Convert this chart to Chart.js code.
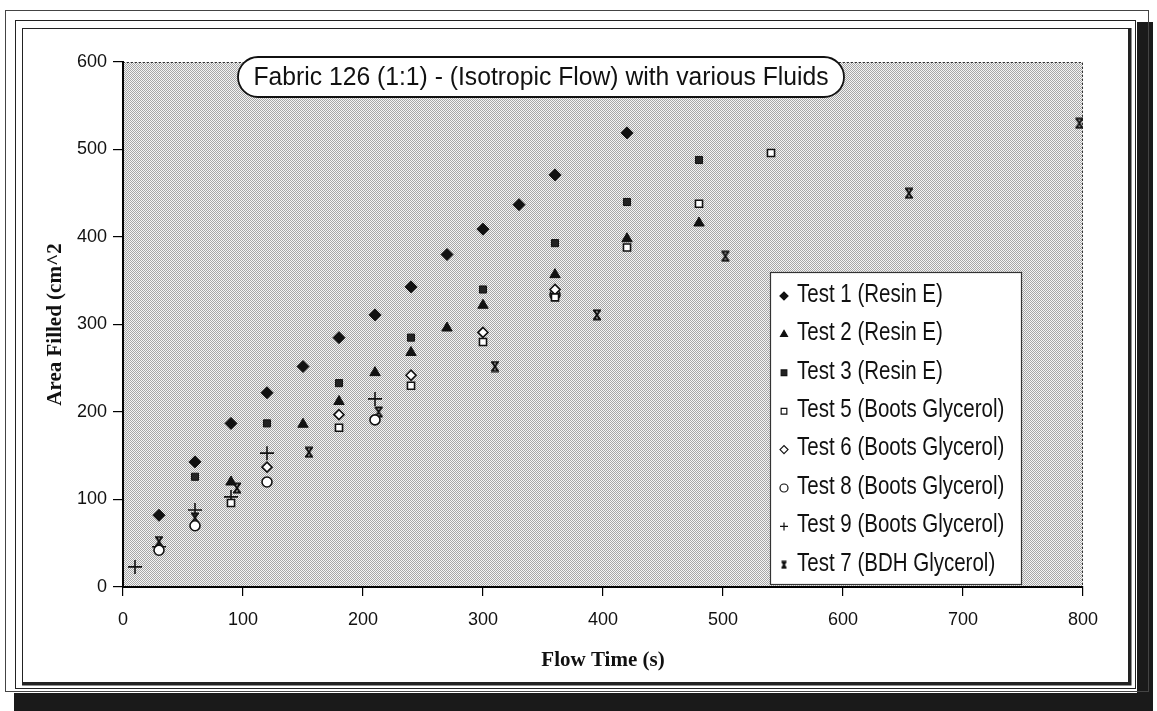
<!DOCTYPE html>
<html>
<head>
<meta charset="utf-8">
<script src="https://cdn.jsdelivr.net/npm/chart.js"></script>
<style>
  html, body { margin: 0; padding: 0; background: #fff; }
  #wrap { width: 1157px; height: 711px; }
</style>
</head>
<body>
<div id="wrap"><canvas id="fillChart" width="1157" height="711"></canvas></div>
<script>
// flow time (s) / area filled (cm^2) per test
const test1Time = [30, 60, 90, 120, 150, 180, 210, 240, 270, 300, 330, 360, 420];
const test1Area = [82, 143, 187, 222, 252, 285, 311, 343, 380, 409, 437, 471, 519];
const test2Time = [90, 150, 180, 210, 240, 270, 300, 360, 420, 480];
const test2Area = [120, 186, 212, 245, 268, 296, 322, 357, 398, 416];
const test3Time = [60, 120, 180, 240, 300, 360, 420, 480];
const test3Area = [126, 187, 233, 285, 340, 393, 440, 488];
const test5Time = [90, 180, 240, 300, 360, 420, 480, 540];
const test5Area = [96, 182, 230, 280, 331, 388, 438, 496];
const test6Time = [120, 180, 240, 300, 360];
const test6Area = [137, 197, 242, 291, 340];
const test8Time = [30, 60, 120, 210, 360];
const test8Area = [42, 70, 120, 191, 334];
const test9Time = [10, 30, 60, 90, 120, 210];
const test9Area = [23, 46, 88, 103, 153, 215];
const test7Time = [30, 60, 95, 155, 213, 310, 395, 502, 655, 797];
const test7Area = [52, 79, 113, 154, 200, 252, 311, 378, 450, 530];

const seriesNames = [
  'Test 1 (Resin E)', 'Test 2 (Resin E)', 'Test 3 (Resin E)',
  'Test 5 (Boots Glycerol)', 'Test 6 (Boots Glycerol)', 'Test 8 (Boots Glycerol)',
  'Test 9 (Boots Glycerol)', 'Test 7 (BDH Glycerol)'
];
const timeTicks = [0, 100, 200, 300, 400, 500, 600, 700, 800];
const areaTicks = [0, 100, 200, 300, 400, 500, 600];
const chartTitle = 'Fabric 126 (1:1) - (Isotropic Flow) with various Fluids';

function pairs(xs, ys) {
  return xs.map((x, i) => ({ x: x, y: ys[i] }));
}

// "x" with bars top and bottom
function hourglassMarker(size) {
  const c = document.createElement('canvas');
  c.width = size; c.height = size;
  const g = c.getContext('2d');
  g.strokeStyle = '#111';
  g.lineWidth = 2;
  g.beginPath();
  g.moveTo(2, 1.5); g.lineTo(size - 2, 1.5);
  g.moveTo(2, size - 1.5); g.lineTo(size - 2, size - 1.5);
  g.moveTo(3, 1.5); g.lineTo(size - 3, size - 1.5);
  g.moveTo(size - 3, 1.5); g.lineTo(3, size - 1.5);
  g.stroke();
  return c;
}

const ink = '#111';
const styles = [
  { pointStyle: 'rectRot', radius: 6, bg: ink, bw: 1 },
  { pointStyle: 'triangle', radius: 6, bg: ink, bw: 1 },
  { pointStyle: 'rect', radius: 5, bg: '#222', bw: 1 },
  { pointStyle: 'rect', radius: 5, bg: '#fff', bw: 1.6 },
  { pointStyle: 'rectRot', radius: 5, bg: '#fff', bw: 1.6 },
  { pointStyle: 'circle', radius: 5, bg: '#fff', bw: 1.6 },
  { pointStyle: 'cross', radius: 7, bg: ink, bw: 1.6 },
  { pointStyle: hourglassMarker(12), radius: 6, bg: ink, bw: 1 }
];
const seriesData = [
  pairs(test1Time, test1Area), pairs(test2Time, test2Area), pairs(test3Time, test3Area),
  pairs(test5Time, test5Area), pairs(test6Time, test6Area), pairs(test8Time, test8Area),
  pairs(test9Time, test9Area), pairs(test7Time, test7Area)
];

const datasets = seriesNames.map((name, i) => ({
  label: name,
  data: seriesData[i],
  pointStyle: styles[i].pointStyle,
  pointRadius: styles[i].radius,
  pointHoverRadius: styles[i].radius,
  backgroundColor: styles[i].bg,
  borderColor: ink,
  borderWidth: styles[i].bw,
  showLine: false
}));

// dotted grey fill of the plot area
function hatchPattern(ctx) {
  const p = document.createElement('canvas');
  p.width = 2; p.height = 2;
  const g = p.getContext('2d');
  g.fillStyle = '#f4f4f4'; g.fillRect(0, 0, 2, 2);
  g.fillStyle = '#a6a6a6'; g.fillRect(0, 0, 1, 1); g.fillRect(1, 1, 1, 1);
  return ctx.createPattern(p, 'repeat');
}

const framePlugin = {
  id: 'frame',
  beforeDraw(chart) {
    const ctx = chart.ctx;
    const a = chart.chartArea;
    ctx.save();
    ctx.fillStyle = '#fff';
    ctx.fillRect(0, 0, chart.width, chart.height);
    // drop shadow on right and bottom
    ctx.fillStyle = '#1a1a1a';
    ctx.fillRect(1137, 22, 16, 689);
    ctx.fillRect(14, 693, 1139, 18);
    ctx.strokeStyle = '#444';
    ctx.lineWidth = 1;
    ctx.strokeRect(5.5, 10.5, 1143, 681);
    ctx.strokeStyle = '#222';
    ctx.strokeRect(15.5, 20.5, 1120, 668);
    ctx.strokeRect(22.5, 28.5, 1106, 654);
    ctx.lineWidth = 3;
    ctx.beginPath();
    ctx.moveTo(1130, 28); ctx.lineTo(1130, 684); ctx.lineTo(22, 684);
    ctx.stroke();
    // plot area
    ctx.fillStyle = hatchPattern(ctx);
    ctx.fillRect(a.left, a.top, a.right - a.left, a.bottom - a.top);
    ctx.strokeStyle = '#333';
    ctx.lineWidth = 1;
    ctx.setLineDash([2, 2]);
    ctx.beginPath();
    ctx.moveTo(a.left, a.top + 0.5); ctx.lineTo(a.right - 0.5, a.top + 0.5); ctx.lineTo(a.right - 0.5, a.bottom);
    ctx.stroke();
    ctx.restore();
  },
  afterDraw(chart) {
    const ctx = chart.ctx;
    ctx.save();
    // title box
    const bx = 238, by = 57, bw = 606, bh = 40, r = 20;
    ctx.beginPath();
    ctx.moveTo(bx + r, by);
    ctx.arcTo(bx + bw, by, bx + bw, by + bh, r);
    ctx.arcTo(bx + bw, by + bh, bx, by + bh, r);
    ctx.arcTo(bx, by + bh, bx, by, r);
    ctx.arcTo(bx, by, bx + bw, by, r);
    ctx.closePath();
    ctx.fillStyle = '#fff';
    ctx.fill();
    ctx.strokeStyle = ink;
    ctx.lineWidth = 1.8;
    ctx.stroke();
    ctx.font = '25px "Liberation Sans", Arial, sans-serif';
    ctx.fillStyle = ink;
    ctx.textBaseline = 'middle';
    ctx.textAlign = 'center';
    const tw = ctx.measureText(chartTitle).width;
    ctx.save();
    ctx.translate(bx + bw / 2, by + bh / 2 + 1);
    ctx.scale(575 / tw, 1);
    ctx.fillText(chartTitle, 0, 0);
    ctx.restore();

    // legend box
    const lx = 770, ly = 272, lw = 251, lh = 312;
    ctx.fillStyle = '#fff';
    ctx.fillRect(lx, ly, lw, lh);
    ctx.strokeStyle = '#333';
    ctx.lineWidth = 1.2;
    ctx.strokeRect(lx + 0.5, ly + 0.5, lw, lh);
    ctx.font = '25px "Liberation Sans", Arial, sans-serif';
    ctx.textAlign = 'left';
    chart.data.datasets.forEach((ds, i) => {
      const y = ly + 23 + i * 38.4;
      ctx.fillStyle = ds.backgroundColor;
      ctx.strokeStyle = ink;
      ctx.lineWidth = 1.2;
      Chart.helpers.drawPoint(ctx, {
        pointStyle: typeof ds.pointStyle === 'string' ? ds.pointStyle : hourglassMarker(9),
        radius: 4, rotation: 0, borderWidth: 1.2
      }, 784, y + 1);
      ctx.fillStyle = ink;
      ctx.save();
      ctx.translate(797, y);
      ctx.scale(0.82, 1);
      ctx.fillText(ds.label, 0, 0);
      ctx.restore();
    });
    ctx.restore();
  }
};

const tickFont = { family: '"Liberation Sans", Arial, sans-serif', size: 18 };
const titleFont = { family: '"Liberation Serif", "Times New Roman", serif', size: 21, weight: 'bold' };

new Chart(document.getElementById('fillChart').getContext('2d'), {
  type: 'scatter',
  data: { datasets: datasets },
  options: {
    responsive: false,
    animation: false,
    devicePixelRatio: 1,
    layout: { padding: { left: 0, right: 74, top: 62, bottom: 24 } },
    plugins: { legend: { display: false }, tooltip: { enabled: false } },
    scales: {
      x: {
        type: 'linear', min: 0, max: 800,
        afterBuildTicks: s => { s.ticks = timeTicks.map(v => ({ value: v })); },
        afterFit: s => { s.height = 100; },
        grid: { display: true, drawOnChartArea: false, drawTicks: true, tickLength: 9, color: '#000', lineWidth: 1.2 },
        border: { display: true, color: '#000', width: 2 },
        ticks: { font: tickFont, color: ink, padding: 13, maxRotation: 0 },
        title: { display: true, text: 'Flow Time (s)', font: titleFont, color: ink, padding: { top: 0, bottom: 14 } }
      },
      y: {
        type: 'linear', min: 0, max: 600,
        afterBuildTicks: s => { s.ticks = areaTicks.map(v => ({ value: v })); },
        afterFit: s => { s.width = 123; },
        grid: { display: true, drawOnChartArea: false, drawTicks: true, tickLength: 10, color: '#000', lineWidth: 1.2 },
        border: { display: true, color: '#000', width: 2 },
        ticks: { font: tickFont, color: ink, padding: 6 },
        title: { display: true, text: 'Area Filled (cm^2', font: titleFont, color: ink, padding: { top: 43, bottom: 0 } }
      }
    }
  },
  plugins: [framePlugin]
});
</script>
</body>
</html>
